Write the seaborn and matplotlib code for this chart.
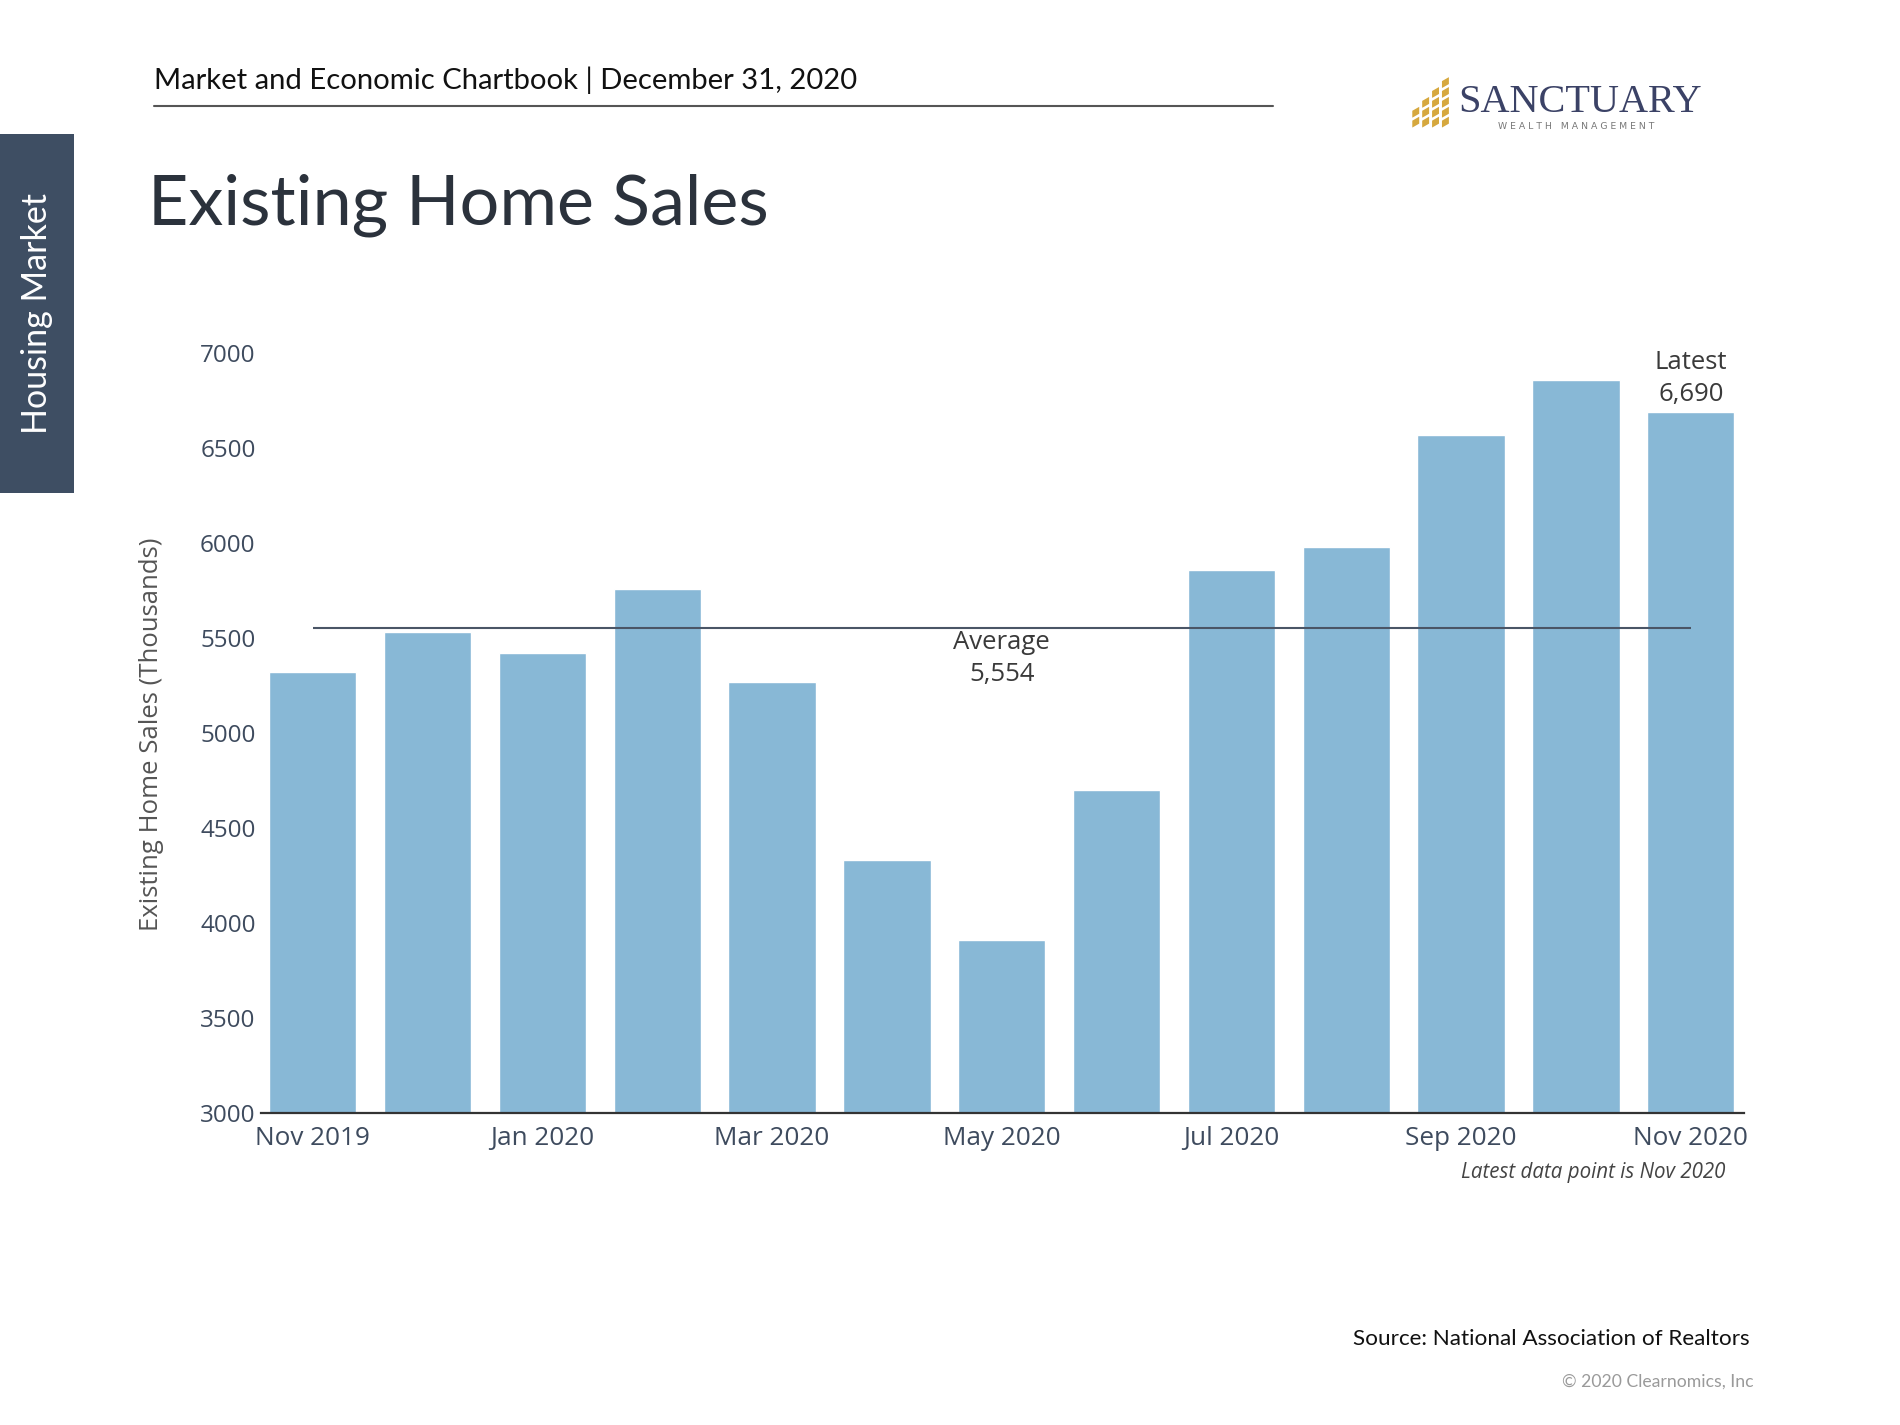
import matplotlib
matplotlib.use("Agg")
import matplotlib.pyplot as plt
import numpy as np
import pandas as pd
import seaborn as sns
from matplotlib.lines import Line2D
from matplotlib.patches import Polygon, Rectangle

sns.set_style("white")
plt.rcParams["font.family"] = ["Open Sans", "DejaVu Sans"]

W, H = 1900, 1425
K = 0.989  # layout coordinates below were measured on a slightly larger grid

months = ["Nov 2019", "Dec 2019", "Jan 2020", "Feb 2020", "Mar 2020", "Apr 2020", "May 2020",
          "Jun 2020", "Jul 2020", "Aug 2020", "Sep 2020", "Oct 2020", "Nov 2020"]
sales = [5320, 5530, 5420, 5760, 5270, 4330, 3910, 4700, 5860, 5980, 6570, 6860, 6690]
tick_labels = ["Nov 2019", "Jan 2020", "Mar 2020", "May 2020", "Jul 2020", "Sep 2020", "Nov 2020"]
y_ticks = [3000, 3500, 4000, 4500, 5000, 5500, 6000, 6500, 7000]
average_value = 5554
latest_value = 6690

BAR_COLOR = "#88b8d6"
SLATE = "#3e4b5e"


def fx(px):
    return px * K / W


def fy(py):
    return 1 - py * K / H


df = pd.DataFrame({"month": months, "sales": sales})

fig = plt.figure(figsize=(19, 14.25), dpi=100)
ax = fig.add_axes([fx(264), fy(1125), fx(1763) - fx(264), fy(357) - fy(1125)])

sns.barplot(data=df, x="month", y="sales", color=BAR_COLOR, saturation=1, width=0.76, ax=ax)

ax.set_ylim(3000, 7000)
ax.set_xlim(-0.45, 12.46)
ax.set_yticks(y_ticks)
ax.set_yticklabels([str(t) for t in y_ticks], fontsize=17.5, color=SLATE)
tick_pos = [months.index(m) for m in tick_labels]
ax.set_xticks(tick_pos)
ax.set_xticklabels(tick_labels, fontsize=18.8, color=SLATE)
ax.tick_params(axis="both", length=0, pad=4)
ax.tick_params(axis="x", pad=9.5)
ax.set_xlabel("")
ax.set_ylabel("")
for side in ["top", "right", "left"]:
    ax.spines[side].set_visible(False)
ax.spines["bottom"].set_color("#333333")
ax.spines["bottom"].set_linewidth(1.6)

fig.text(fx(153), fy(742), "Existing Home Sales (Thousands)", rotation=90, ha="center", va="center",
         fontsize=18.5, color="#555555")

ax.hlines(average_value, 0, len(months) - 1, color="#4a5566", linewidth=1.5, zorder=3)
ax.text(6, average_value - 12, "Average\n{:,}".format(average_value), ha="center", va="top",
        fontsize=18.5, color="#3a3a3a", linespacing=1.38)
ax.text(12, latest_value + 25, "Latest\n{:,}".format(latest_value), ha="center", va="bottom",
        fontsize=18.5, color="#3a3a3a", linespacing=1.38, clip_on=False)

# page furniture
fig.patches.append(Rectangle((0, fy(498)), fx(75), fy(135) - fy(498), transform=fig.transFigure,
                             facecolor="#3e4e63", edgecolor="none"))
fig.text(fx(37), fy(317), "Housing Market", rotation=90, ha="center", va="center",
         fontsize=24.5, color="white", family=["Lato", "DejaVu Sans"])

fig.text(fx(156), fy(90), "Market and Economic Chartbook | December 31, 2020", ha="left", va="baseline",
         fontsize=21.1, color="#111111", family=["Lato", "DejaVu Sans"])
fig.add_artist(Line2D([fx(156), fx(1287)], [fy(107), fy(107)], color="#555555", linewidth=1.5))
fig.text(fx(150), fy(227), "Existing Home Sales", ha="left", va="baseline",
         fontsize=50.5, color="#2b323c", family=["Lato", "DejaVu Sans"])

# logo
for x0, top in [(1428, 112), (1438, 102), (1448, 92), (1458, 82)]:
    y = 129
    while y - 9 >= top - 2:
        pts = [(x0, y), (x0 + 7, y - 4), (x0 + 7, y - 11), (x0, y - 7)]
        fig.patches.append(Polygon([(fx(a), fy(b)) for a, b in pts], closed=True,
                                   transform=fig.transFigure, facecolor="#d6a83e", edgecolor="none"))
        y -= 10
fig.text(fx(1474), fy(113), "SANCTUARY", ha="left", va="baseline", fontsize=29,
         color="#3b4266", family=["Liberation Serif", "DejaVu Serif"])
fig.text(fx(1594), fy(128), "W E A L T H   M A N A G E M E N T", ha="center", va="center", fontsize=6.7,
         color="#777777", family=["DejaVu Sans"])

fig.text(fx(1745), fy(1186), "Latest data point is Nov 2020", ha="right", va="center",
         fontsize=14.8, style="italic", color="#444444")
fig.text(fx(1769), fy(1354), "Source: National Association of Realtors", ha="right", va="center",
         fontsize=16.2, color="#111111", family=["Lato", "DejaVu Sans"])
fig.text(fx(1773), fy(1397), "\u00a9 2020 Clearnomics, Inc", ha="right", va="center",
         fontsize=12.7, color="#9a9a9a", family=["Lato", "DejaVu Sans"])

fig.savefig("out.png", dpi=100)
